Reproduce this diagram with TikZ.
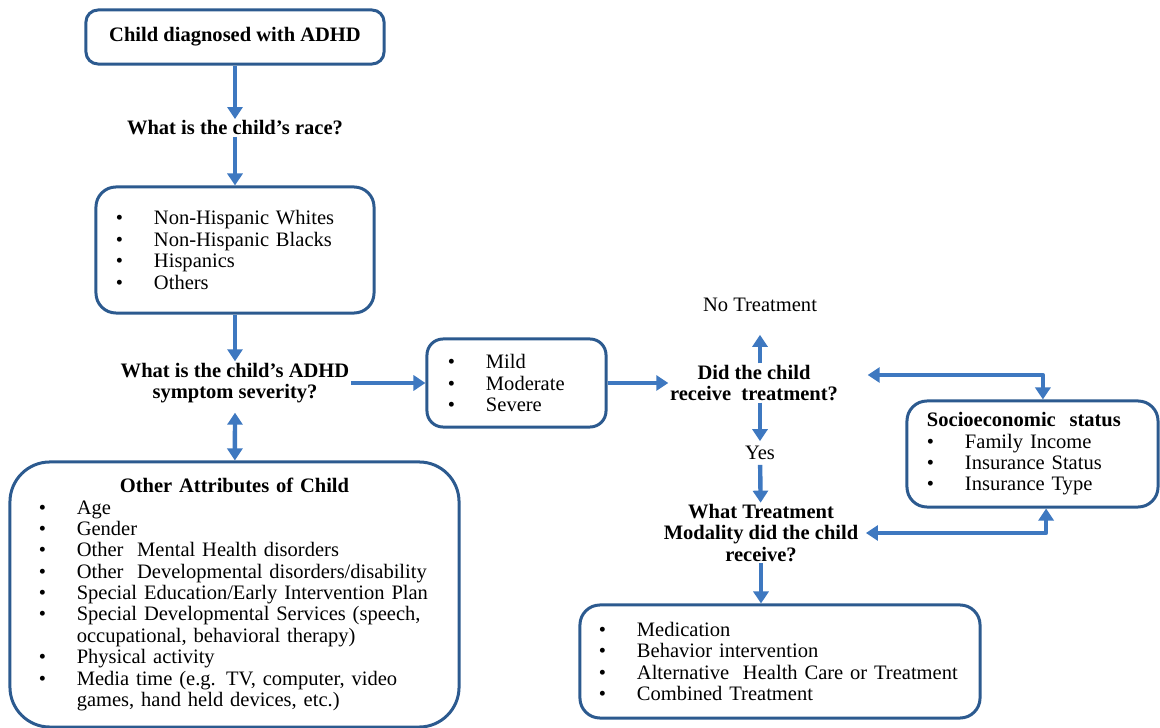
\documentclass[tikz,border=0pt]{standalone}
\usepackage{fontspec}
\setmainfont{Liberation Serif}
\usetikzlibrary{arrows.meta,calc,positioning}
\definecolor{boxblue}{RGB}{44,90,143}
\definecolor{arrblue}{RGB}{62,120,192}
\newlength\bulw \setlength\bulw{0.95cm}
\newcommand\itm[1]{\makebox[\bulw][l]{\textbullet}\mbox{#1}}

\begin{document}
\begin{tikzpicture}[x=0.025cm,y=-0.025cm,line join=round,
 font=\fontsize{14.6}{15.2}\selectfont,
 box/.style={draw=boxblue,line width=0.075cm,rounded corners=#1,align=left,inner ysep=0pt},
 box/.default=0.5cm,
 ques/.style={font=\fontsize{14.6}{15.2}\selectfont\bfseries,align=center,inner sep=1pt},
 arr/.style={draw=arrblue,line width=0.11cm,-{Triangle[width=0.375cm,length=0.3cm]}},
 dbl/.style={draw=arrblue,line width=0.11cm,{Triangle[width=0.375cm,length=0.3cm]}-{Triangle[width=0.375cm,length=0.3cm]}}]
\useasboundingbox (0,0) rectangle (1160,728);

% left column
\node[box=0.3cm,align=center,minimum width=7.45cm,minimum height=1.35cm,font=\fontsize{14.6}{15.2}\selectfont\bfseries] (diag) at (235,37) {Child diagnosed with ADHD};
\node[ques] (raceq) at (235,128) {What is the child’s race?};
\node[box,inner xsep=0.5cm,text width=5.95cm,minimum height=3.15cm] (race) at (235,250)
 {\itm{Non-Hispanic Whites}\\ \itm{Non-Hispanic Blacks}\\ \itm{Hispanics}\\ \itm{Others}};
\node[ques] (sevq) at (235,383) {What is the child’s ADHD\\symptom severity?};
\node[box=1cm,inner xsep=0.72cm,text width=9.785cm,minimum height=6.625cm] (attr) at (234.5,594.5)
 {\makebox[\hsize]{\bfseries Other Attributes of Child}\\
  \itm{Age}\\ \itm{Gender}\\ \itm{Other~ Mental Health disorders}\\
  \itm{Other~ Developmental disorders/disability}\\
  \itm{Special Education/Early Intervention Plan}\\
  \itm{Special Developmental Services (speech,}\\ \hspace*{\bulw}occupational, behavioral therapy)\\
  \itm{Physical activity}\\
  \itm{Media time (e.g. TV, computer, video}\\ \hspace*{\bulw}games, hand held devices, etc.)};

% middle
\node[box=0.4cm,inner xsep=0.525cm,text width=3.425cm,minimum height=2.2cm] (mild) at (516.5,383)
 {\itm{Mild}\\ \itm{Moderate}\\ \itm{Severe}};
\node[ques] (didq) at (754,383) {Did the child\\receive~ treatment?};
\node (notreat) at (760,305) {No Treatment};
\node (yes) at (760,453) {Yes};
\node[ques] (modq) at (761,533) {What Treatment\\Modality did the child\\receive?};
\node[box,inner xsep=0.475cm,text width=9.05cm,minimum height=2.825cm] (med) at (780,661.5)
 {\itm{Medication}\\ \itm{Behavior intervention}\\ \itm{Alternative~ Health Care or Treatment}\\ \itm{Combined Treatment}};

% right
\node[box,inner xsep=0.5cm,text width=5.275cm,minimum height=2.65cm] (ses) at (1032.5,454)
 {\textbf{Socioeconomic~ status}\\ \itm{Family Income}\\ \itm{Insurance Status}\\ \itm{Insurance Type}};

% connectors
\draw[arr] (diag) -- (raceq);
\draw[arr] (raceq) -- (race);
\draw[arr] (race) -- (sevq);
\draw[dbl] ([yshift=-0.2cm]sevq.south) -- (attr);
\draw[arr] (sevq) -- (mild);
\draw[arr] (mild) -- (didq);
\draw[arr] (didq.north -| yes) -- ([yshift=-0.45cm]notreat.south);
\draw[arr] (didq.south -| yes) -- (yes);
\draw[arr] (yes) -- (modq);
\draw[arr] (modq) -- (modq |- med.north);
\draw[dbl] ([xshift=0.7cm,yshift=0.2cm]didq.east) -| ([xshift=0.26cm]ses.north);
\draw[dbl] ([xshift=0.15cm]modq.east) -| ([xshift=0.34cm]ses.south);
\end{tikzpicture}
\end{document}
